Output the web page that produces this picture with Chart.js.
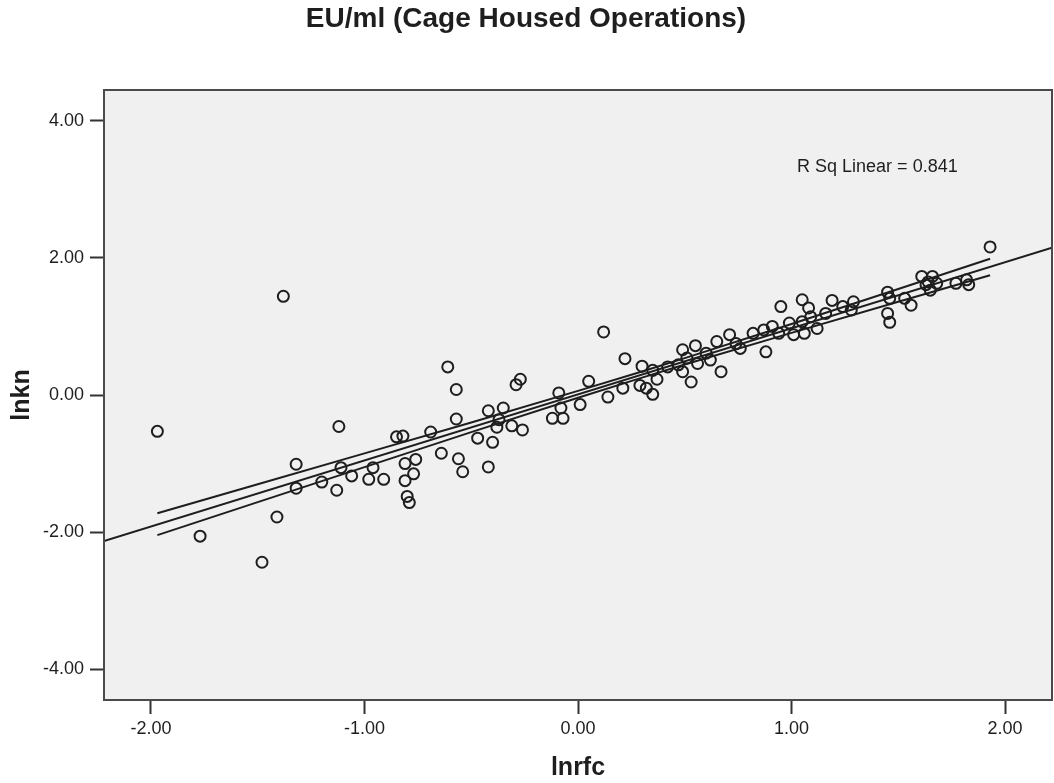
<!DOCTYPE html>
<html>
<head>
<meta charset="utf-8">
<script src="https://cdn.jsdelivr.net/npm/chart.js@4.4.0/dist/chart.umd.min.js"></script>
<style>
  html, body { margin: 0; padding: 0; background: #fff; }
  #wrap { width: 1054px; height: 783px; }
</style>
</head>
<body>
<div id="wrap"><canvas id="chart" width="1054" height="783"></canvas></div>
<script>
// observed points (lnrfc, lnkn)
const lnrfc = [
  -1.97, -1.38, -1.77, -1.48, -1.41, -1.32, -1.32, -1.12, -1.11, -1.13,
  -1.20, -1.06, -0.98, -0.96, -0.91, -0.85, -0.82, -0.81, -0.76, -0.77,
  -0.81, -0.80, -0.79, -0.69, -0.64, -0.61, -0.57, -0.57, -0.56, -0.54,
  -0.47, -0.40, -0.42, -0.42, -0.35, -0.37, -0.38, -0.31, -0.26, -0.27,
  -0.29, -0.09, -0.12, -0.07, -0.08, 0.01, 0.05, 0.12, 0.22, 0.14,
  0.21, 0.30, 0.29, 0.32, 0.35, 0.37, 0.35, 0.42, 0.49, 0.49,
  0.53, 0.47, 0.51, 0.55, 0.56, 0.60, 0.62, 0.65, 0.67, 0.71,
  0.74, 0.76, 0.82, 0.87, 0.88, 0.91, 0.94, 0.95, 0.99, 1.01,
  1.05, 1.08, 1.09, 1.05, 1.06, 1.12, 1.16, 1.19, 1.24, 1.29,
  1.28, 1.45, 1.46, 1.45, 1.46, 1.53, 1.56, 1.61, 1.63, 1.65,
  1.66, 1.68, 1.64, 1.77, 1.82, 1.83, 1.93
];
const lnkn = [
  -0.53, 1.44, -2.06, -2.44, -1.78, -1.01, -1.36, -0.46, -1.06, -1.39,
  -1.27, -1.18, -1.23, -1.06, -1.23, -0.61, -0.60, -1.00, -0.94, -1.15,
  -1.25, -1.48, -1.57, -0.54, -0.85, 0.41, 0.08, -0.35, -0.93, -1.12,
  -0.63, -0.69, -1.05, -0.23, -0.19, -0.36, -0.47, -0.45, -0.51, 0.23,
  0.15, 0.03, -0.34, -0.34, -0.19, -0.14, 0.20, 0.92, 0.53, -0.03,
  0.10, 0.42, 0.14, 0.10, 0.01, 0.23, 0.36, 0.41, 0.66, 0.34,
  0.19, 0.44, 0.54, 0.72, 0.46, 0.61, 0.51, 0.78, 0.34, 0.88,
  0.75, 0.68, 0.90, 0.95, 0.63, 1.00, 0.90, 1.29, 1.05, 0.88,
  1.39, 1.27, 1.14, 1.07, 0.90, 0.97, 1.19, 1.38, 1.29, 1.36,
  1.24, 1.50, 1.41, 1.19, 1.06, 1.41, 1.31, 1.73, 1.61, 1.53,
  1.73, 1.63, 1.65, 1.63, 1.68, 1.61, 2.16
];

// fit line across the whole axis
const fitX = [-2.22, 2.22];
const fitY = [-2.13, 2.15];

// 95% confidence band of the mean
const bandX = [-1.97, -1.5, -1.0, -0.5, 0.0, 0.3, 0.5, 1.0, 1.5, 1.93];
const bandUpper = [-1.725, -1.303, -0.852, -0.401, 0.06, 0.344, 0.538, 1.037, 1.546, 1.987];
const bandLower = [-2.045, -1.563, -1.052, -0.541, -0.04, 0.254, 0.444, 0.907, 1.36, 1.747];

const xTicks = [-2, -1, 0, 1, 2];
const yTicks = [-4, -2, 0, 2, 4];

const rsqLabel = 'R Sq Linear = 0.841';

const toPts = (xs, ys) => xs.map((x, i) => ({ x: x, y: ys[i] }));
const ink = '#1e1e1e';
const FONT = "'Liberation Sans', Arial, sans-serif";

const plotFrame = {
    id: 'plotFrame',
    beforeDraw(chart) {
        const { ctx, chartArea: a } = chart;
        ctx.save();
        ctx.fillStyle = '#f0f0f0';
        ctx.fillRect(a.left, a.top, a.right - a.left, a.bottom - a.top);
        ctx.restore();
    },
    afterDraw(chart) {
        const { ctx, chartArea: a, scales } = chart;
        ctx.save();
        ctx.strokeStyle = '#4a4a4a';
        ctx.lineWidth = 2;
        ctx.strokeRect(a.left, a.top, a.right - a.left, a.bottom - a.top);
        // R squared note
        ctx.fillStyle = ink;
        ctx.font = '18px ' + FONT;
        ctx.textAlign = 'left';
        ctx.textBaseline = 'middle';
        ctx.fillText(rsqLabel, scales.x.getPixelForValue(1.026), scales.y.getPixelForValue(3.33));
        ctx.restore();
    }
};

const lineStyle = {
    type: 'line',
    showLine: true,
    pointRadius: 0,
    borderColor: ink,
    borderWidth: 2,
    fill: false,
    tension: 0
};

new Chart(document.getElementById('chart').getContext('2d'), {
    type: 'scatter',
    data: {
        datasets: [
            Object.assign({ data: toPts(fitX, fitY), clip: 0 }, lineStyle),
            Object.assign({ data: toPts(bandX, bandUpper) }, lineStyle),
            Object.assign({ data: toPts(bandX, bandLower) }, lineStyle),
            {
                data: toPts(lnrfc, lnkn),
                pointStyle: 'circle',
                pointRadius: 5.5,
                pointBorderWidth: 2,
                pointBorderColor: ink,
                pointBackgroundColor: 'rgba(0,0,0,0)'
            }
        ]
    },
    options: {
        responsive: false,
        animation: false,
        layout: { autoPadding: false, padding: { left: 0, right: 2, top: 0, bottom: 0 } },
        plugins: {
            legend: { display: false },
            tooltip: { enabled: false },
            title: {
                display: true,
                text: 'EU/ml (Cage Housed Operations)',
                color: ink,
                font: { family: FONT, size: 28, weight: 'bold' },
                padding: { top: 2.2, bottom: 54.2 }
            }
        },
        scales: {
            x: {
                type: 'linear',
                min: -2.22,
                max: 2.22,
                afterBuildTicks: s => { s.ticks = xTicks.map(v => ({ value: v })); },
                afterFit: s => { s.height = 83; s.paddingLeft = 0; s.paddingRight = 0; },
                grid: { drawOnChartArea: false, drawTicks: true, tickLength: 14, tickWidth: 2, color: '#333' },
                border: { display: true, color: '#4a4a4a', width: 2 },
                ticks: {
                    padding: 4,
                    color: ink,
                    font: { family: FONT, size: 18 },
                    callback: v => Number(v).toFixed(2)
                },
                title: {
                    display: true,
                    text: 'lnrfc',
                    color: ink,
                    font: { family: FONT, size: 25, weight: 'bold' },
                    padding: { top: 0, bottom: 0 }
                }
            },
            y: {
                type: 'linear',
                min: -4.45,
                max: 4.45,
                afterBuildTicks: s => { s.ticks = yTicks.map(v => ({ value: v })); },
                afterFit: s => { s.width = 104; },
                grid: { drawOnChartArea: false, drawTicks: true, tickLength: 14, tickWidth: 2, color: '#333' },
                border: { display: true, color: '#4a4a4a', width: 2 },
                ticks: {
                    padding: 6,
                    color: ink,
                    font: { family: FONT, size: 18 },
                    callback: v => Number(v).toFixed(2)
                },
                title: {
                    display: true,
                    text: 'lnkn',
                    color: ink,
                    font: { family: FONT, size: 25, weight: 'bold' },
                    padding: { top: 7, bottom: 0 }
                }
            }
        }
    },
    plugins: [plotFrame]
});
</script>
</body>
</html>
